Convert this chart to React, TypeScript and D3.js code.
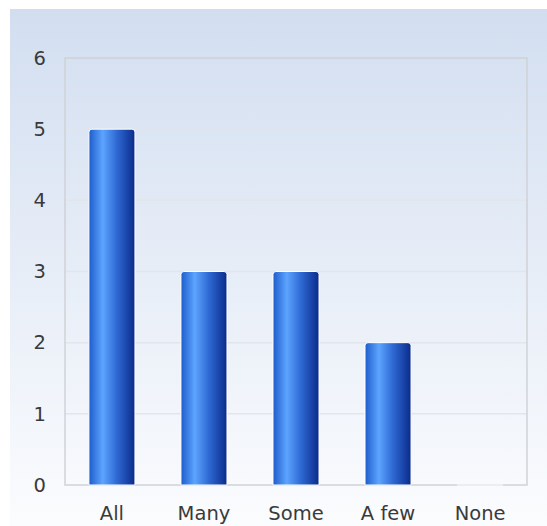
import { FC, useEffect, useRef } from 'react';
import * as d3 from 'd3';

const categories = ['All', 'Many', 'Some', 'A few', 'None'];
const counts = [5, 3, 3, 2, 0];
const yTicks = [0, 1, 2, 3, 4, 5, 6];

const WIDTH = 547;
const HEIGHT = 526;
const margin = { top: 58, right: 20, bottom: 41, left: 65 };

const App: FC = () => {
  const svgRef = useRef<SVGSVGElement>(null);

  useEffect(() => {
    if (!svgRef.current) return;
    const svg = d3.select(svgRef.current);
    svg.selectAll('*').remove();

    const defs = svg.append('defs');
    const bg = defs
      .append('linearGradient')
      .attr('id', 'bg')
      .attr('x1', 0)
      .attr('y1', 0)
      .attr('x2', 0)
      .attr('y2', 1);
    bg.append('stop').attr('offset', '0%').attr('stop-color', '#d2def0');
    bg.append('stop').attr('offset', '100%').attr('stop-color', '#fbfcfe');

    const barGrad = defs
      .append('linearGradient')
      .attr('id', 'bar')
      .attr('x1', 0)
      .attr('y1', 0)
      .attr('x2', 1)
      .attr('y2', 0);
    barGrad.append('stop').attr('offset', '0%').attr('stop-color', '#1d5ccb');
    barGrad.append('stop').attr('offset', '30%').attr('stop-color', '#5da4ff');
    barGrad.append('stop').attr('offset', '60%').attr('stop-color', '#2f6ad4');
    barGrad.append('stop').attr('offset', '100%').attr('stop-color', '#0a2b8a');

    svg
      .append('rect')
      .attr('x', 10)
      .attr('y', 9)
      .attr('width', WIDTH - 10)
      .attr('height', HEIGHT - 9)
      .attr('fill', 'url(#bg)');

    const innerW = WIDTH - margin.left - margin.right;
    const innerH = HEIGHT - margin.top - margin.bottom;

    const x = d3
      .scaleBand<string>()
      .domain(categories)
      .range([margin.left, margin.left + innerW])
      .paddingInner(0.5)
      .paddingOuter(0.26);
    const y = d3
      .scaleLinear()
      .domain([0, 6])
      .range([margin.top + innerH, margin.top]);

    // grid
    svg
      .append('g')
      .selectAll('line')
      .data(yTicks.slice(1, -1))
      .join('line')
      .attr('x1', margin.left)
      .attr('x2', margin.left + innerW)
      .attr('y1', (d) => y(d))
      .attr('y2', (d) => y(d))
      .attr('stroke', '#e2e5ea')
      .attr('stroke-width', 1.5);

    svg
      .append('rect')
      .attr('x', margin.left)
      .attr('y', margin.top)
      .attr('width', innerW)
      .attr('height', innerH)
      .attr('fill', 'none')
      .attr('stroke', '#cfd2d6')
      .attr('stroke-width', 1.5);

    const r = 3;
    svg
      .append('g')
      .selectAll('path')
      .data(counts)
      .join('path')
      .attr('d', (d, i) => {
        const x0 = x(categories[i])!;
        const w = x.bandwidth();
        const y0 = y(0);
        const y1 = y(d);
        if (d === 0) return `M${x0},${y0}H${x0 + w}`;
        return `M${x0},${y0}V${y1 + r}Q${x0},${y1} ${x0 + r},${y1}H${x0 + w - r}Q${x0 + w},${y1} ${x0 + w},${y1 + r}V${y0}Z`;
      })
      .attr('fill', (d) => (d === 0 ? 'none' : 'url(#bar)'))
      .attr('stroke', '#ffffff')
      .attr('stroke-width', 1);

    const font = 'DejaVu Sans, Verdana, sans-serif';

    const yAxis = d3
      .axisLeft(y)
      .tickValues(yTicks)
      .tickFormat(d3.format('d'))
      .tickSize(0)
      .tickPadding(19);
    const gy = svg
      .append('g')
      .attr('transform', `translate(${margin.left},0)`)
      .call(yAxis);
    gy.select('.domain').remove();
    gy.selectAll('text')
      .attr('font-family', font)
      .attr('font-size', 19.5)
      .attr('fill', '#3a3a3a');

    const xAxis = d3.axisBottom(x).tickSize(0).tickPadding(21);
    const gx = svg
      .append('g')
      .attr('transform', `translate(0,${margin.top + innerH})`)
      .call(xAxis);
    gx.select('.domain').remove();
    gx.selectAll('text')
      .attr('font-family', font)
      .attr('font-size', 19.5)
      .attr('fill', '#3a3a3a');
  }, []);

  return (
    <svg
      ref={svgRef}
      width={WIDTH}
      height={HEIGHT}
      style={{ position: 'absolute', left: 0, top: 0 }}
    />
  );
};

export default App;
